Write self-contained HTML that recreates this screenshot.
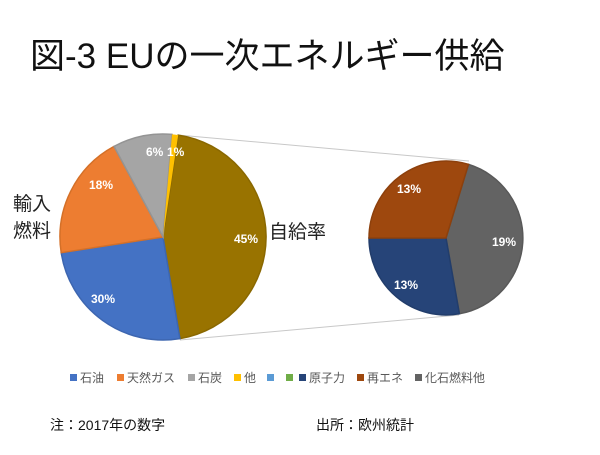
<!DOCTYPE html>
<html><head><meta charset="utf-8"><style>
body{margin:0;background:#fff;}
svg text{font-family:"Liberation Sans","Noto Sans CJK JP",sans-serif;}
</style></head><body>
<svg width="600" height="450" xmlns="http://www.w3.org/2000/svg">
<rect width="600" height="450" fill="#fff"/>
<text x="30" y="68" font-size="35" fill="#111">図-3 EUの一次エネルギー供給</text>
<line x1="178" y1="135" x2="469" y2="161" stroke="#c8c8c8" stroke-width="1"/>
<line x1="180" y1="340" x2="459" y2="315" stroke="#c8c8c8" stroke-width="1"/>
<g stroke="#fff" stroke-width="0" >
<path d="M163,237 L178.2,135.1 A103,103 0 0 1 179.9,338.6 Z" fill="#997300" stroke="#8a6800" stroke-width="1.5"/>
<path d="M163,237 L179.9,338.6 A103,103 0 0 1 61.2,252.7 Z" fill="#4472C4" stroke="#3d66b0" stroke-width="1.5"/>
<path d="M163,237 L61.2,252.7 A103,103 0 0 1 114,146.4 Z" fill="#ED7D31" stroke="#d47028" stroke-width="1.5"/>
<path d="M163,237 L114,146.4 A103,103 0 0 1 172,134.4 Z" fill="#A5A5A5" stroke="#949494" stroke-width="1.5"/>
<path d="M163,237 L172,134.4 A103,103 0 0 1 178.2,135.1 Z" fill="#FFC000"/>
<path d="M446,238 L468.5,164.4 A77,77 0 0 1 459.4,313.8 Z" fill="#636363" stroke="#595959" stroke-width="1.5"/>
<path d="M446,238 L459.4,313.8 A77,77 0 0 1 369,238 Z" fill="#264478" stroke="#223d6b" stroke-width="1.5"/>
<path d="M446,238 L369,238 A77,77 0 0 1 468.5,164.4 Z" fill="#9E480E" stroke="#8d400c" stroke-width="1.5"/>
</g>
<g font-size="12" font-weight="bold" fill="#fff">
<text x="146" y="156">6%</text><text x="167" y="156">1%</text>
<text x="89" y="189">18%</text>
<text x="234" y="243">45%</text>
<text x="91" y="303">30%</text>
<text x="397" y="193">13%</text>
<text x="492" y="246">19%</text>
<text x="394" y="289">13%</text>
</g>
<text x="13" y="210" font-size="19" fill="#222">輸入</text>
<text x="13" y="237" font-size="19" fill="#222">燃料</text>
<text x="269" y="238" font-size="19" fill="#222">自給率</text>
<g font-size="12" fill="#595959">
<rect x="70" y="374" width="7" height="7" fill="#4472C4"/><text x="80" y="382">石油</text>
<rect x="117" y="374" width="7" height="7" fill="#ED7D31"/><text x="127" y="382">天然ガス</text>
<rect x="188" y="374" width="7" height="7" fill="#A5A5A5"/><text x="198" y="382">石炭</text>
<rect x="234" y="374" width="7" height="7" fill="#FFC000"/><text x="244" y="382">他</text>
<rect x="267" y="374" width="7" height="7" fill="#5B9BD5"/>
<rect x="286" y="374" width="7" height="7" fill="#70AD47"/>
<rect x="299" y="374" width="7" height="7" fill="#264478"/><text x="309" y="382">原子力</text>
<rect x="357" y="374" width="7" height="7" fill="#9E480E"/><text x="367" y="382">再エネ</text>
<rect x="415" y="374" width="7" height="7" fill="#636363"/><text x="425" y="382">化石燃料他</text>
</g>
<text x="50" y="430" font-size="14" fill="#111">注：2017年の数字</text>
<text x="316" y="430" font-size="14" fill="#111">出所：欧州統計</text>
</svg>
</body></html>
